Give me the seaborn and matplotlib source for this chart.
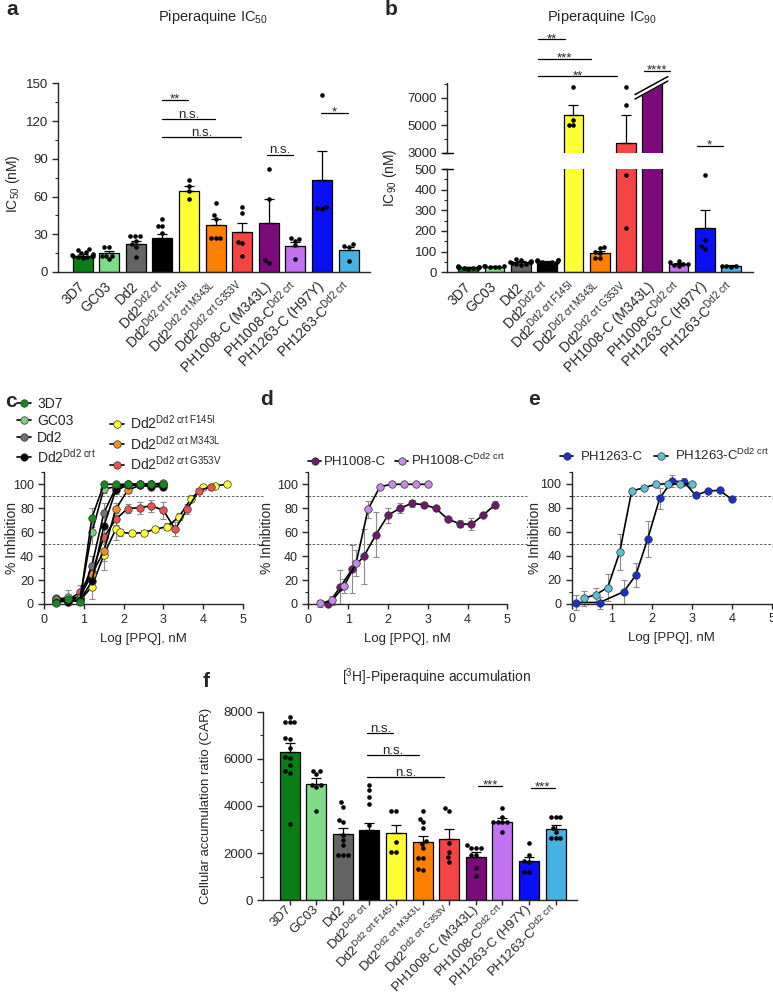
import numpy as np
import pandas as pd
import matplotlib
matplotlib.use('Agg')
import matplotlib.pyplot as plt
from matplotlib.lines import Line2D
from matplotlib.ticker import MultipleLocator
import seaborn as sns

sns.set_style('ticks')
plt.rcParams['font.family'] = ['Liberation Sans', 'DejaVu Sans']
plt.rcParams['mathtext.fontset'] = 'custom'
plt.rcParams['mathtext.rm'] = 'Liberation Sans'
plt.rcParams['mathtext.it'] = 'Liberation Sans:italic'
plt.rcParams['mathtext.bf'] = 'Liberation Sans:bold'
plt.rcParams['axes.linewidth'] = 1.0
plt.rcParams['xtick.major.width'] = 1.0
plt.rcParams['ytick.major.width'] = 1.0
plt.rcParams['ytick.minor.width'] = 0.8
plt.rcParams['ytick.major.size'] = 4
plt.rcParams['ytick.minor.size'] = 2.5
plt.rcParams['xtick.major.size'] = 3.5

#_____ DATA: strains _____
strains = ['3D7', 'GC03', 'Dd2', 'Dd2crt', 'F145I', 'M343L', 'G353V',
           'PH1008C', 'PH1008Ccrt', 'PH1263C', 'PH1263Ccrt']
strain_labels = ['3D7', 'GC03', 'Dd2',
                 r'Dd2$^{\mathrm{Dd2\ crt}}$',
                 r'Dd2$^{\mathrm{Dd2\ crt\ F145I}}$',
                 r'Dd2$^{\mathrm{Dd2\ crt\ M343L}}$',
                 r'Dd2$^{\mathrm{Dd2\ crt\ G353V}}$',
                 'PH1008-C (M343L)',
                 r'PH1008-C$^{\mathrm{Dd2\ crt}}$',
                 'PH1263-C (H97Y)',
                 r'PH1263-C$^{\mathrm{Dd2\ crt}}$']
strain_colors = ['#0a7d14', '#7fdc86', '#646464', '#000000', '#ffff33', '#ff8000',
                 '#f44444', '#7d0a7d', '#c173f2', '#0a10f5', '#44b2e2']

#_____ DATA: panel a, IC50 (nM) _____
ic50_mean = [13, 14.8, 22.2, 27.3, 64.5, 37, 31.5, 39, 20.6, 73, 17.2]
ic50_sem = [1.2, 1.9, 2.1, 3.1, 3.7, 5, 7.5, 18.7, 2.9, 22.8, 2.6]
ic50_points = [
    [18.5, 17.5, 16, 15, 14, 13.5, 13, 12.5, 12, 11.5, 12, 13],
    [20, 20, 13, 10, 13, 13],
    [29, 28.6, 29, 25, 22, 20, 12],
    [42.5, 36.5, 36.5, 30.7, 24, 22, 20, 18],
    [72.8, 68.5, 64, 58],
    [54.5, 45.2, 41.8, 27.3, 27.3, 27.3],
    [51.3, 46.6, 24, 22.8, 13],
    [81.7, 58, 9.5, 7.4],
    [27, 26, 25, 21.4, 10],
    [141, 52, 50, 51],
    [22, 21, 20, 9],
]
ic50_sig = [(3, 3.97, 137, '**'), (3, 4.97, 121.7, 'n.s.'), (3, 5.97, 107, 'n.s.'),
            (6.93, 7.9, 93.4, 'n.s.'), (8.97, 9.96, 126.7, '*')]

#_____ DATA: panel b, IC90 (nM) _____
ic90_mean = [25, 28, 48, 52, 5742, 92, 3727, 20000, 40, 213, 30]
ic90_sem = [3, 3, 5, 3, 705, 11, 2015, 0, 5, 89, 3]
ic90_points = [
    [30, 28, 25, 22, 20, 18, 25, 28, 22],
    [32, 30, 28, 25, 24, 30],
    [60, 62, 55, 50, 45, 38, 35, 40, 48, 50],
    [60, 60, 58, 55, 55, 50, 48, 45, 50],
    [7756, 5378, 5000, 5000],
    [122, 116, 100, 92, 68, 70],
    [7800, 6491, 469, 214],
    [],
    [55, 50, 42, 35, 30, 40],
    [471, 155, 125, 115],
    [32, 30, 28, 30],
]
ic90_sig = [(2.66, 3.66, 11247, '**'), (2.66, 4.65, 9815, '***'), (2.66, 5.66, 8556, '**'),
            (6.69, 7.67, 8964, '****'), (8.7, 9.67, 3509, '*')]

#_____ DATA: panel c, d, e dose response (% inhibition vs log[PPQ]) _____
log_std = [0.3, 0.6, 0.9, 1.2, 1.5, 1.8, 2.1, 2.4, 2.7, 3.0]
inh_3d7 = [1, 4, 2, 72, 100, 100, 100, 100, 100, 100]
err_3d7 = [2, 3, 3, 8, 1, 1, 1, 1, 1, 1]
inh_gc03 = [3, 6, 5, 60, 96, 98, 100, 100, 100, 101]
err_gc03 = [2, 6, 4, 10, 3, 2, 1, 1, 1, 1]
inh_dd2 = [4, 3, 5, 32, 76, 97, 100, 100, 100, 100]
err_dd2 = [3, 3, 5, 8, 8, 3, 1, 1, 1, 1]
inh_dd2crt = [2, 2, 3, 19, 65, 95, 99, 99, 98, 98]
err_dd2crt = [2, 2, 3, 6, 9, 3, 2, 1, 2, 2]
log_f145i = [0.3, 0.6, 0.9, 1.2, 1.5, 1.8, 1.9, 2.2, 2.5, 2.8, 3.1, 3.4, 3.7, 4.0, 4.3, 4.6]
inh_f145i = [3, 2, 3, 14.5, 41, 62.4, 60, 59, 59.6, 62.5, 64.6, 73, 88, 97.5, 98.6, 100]
err_f145i = [2, 2, 3, 10, 13, 9, 3, 2, 2, 2, 3, 3, 3, 1, 1, 1]
inh_m343l = [5, 4, 6, 25, 44, 79, 95, 99, 100, 99]
err_m343l = [2, 3, 3, 7, 8, 5, 2, 1, 1, 1]
log_g353v = [0.3, 0.6, 0.9, 1.2, 1.5, 1.8, 2.1, 2.4, 2.7, 3.0, 3.3, 3.6, 3.9, 4.2]
inh_g353v = [4, 3, 10, 26.5, 55.7, 70.8, 79.7, 80.5, 82, 78.3, 62.4, 79.4, 94.7, 98]
err_g353v = [2, 2, 6, 8, 10, 5, 4, 5, 5, 7, 6, 4, 2, 1]

log_ph1008 = [0.5, 0.8, 1.1, 1.4, 1.7, 2.0, 2.3, 2.6, 2.9, 3.2, 3.5, 3.8, 4.1, 4.4, 4.7]
inh_ph1008 = [0, 14, 29, 40, 58, 74, 80, 84, 83, 80, 71, 67, 66.5, 74.5, 83]
err_ph1008 = [0, 14, 20, 23, 19, 6, 4, 3, 2, 1, 1, 3, 5, 1, 3]
inh_ph1008crt = [0.5, 3, 15, 34, 79, 98, 100, 100, 100, 100]
err_ph1008crt = [3, 4, 6, 11, 7, 1, 1, 1, 1, 1]

log_ph1263 = [0.1, 0.7, 1.3, 1.6, 1.9, 2.2, 2.5, 2.8, 3.1, 3.4, 3.7, 4.0]
inh_ph1263 = [1, 1, 10, 23.6, 54, 87.8, 102, 101.7, 90.3, 94, 94.4, 87]
err_ph1263 = [6, 5, 10, 10, 15, 9, 5, 3, 1, 1, 1, 1]
inh_ph1263crt = [4.5, 7.5, 13.5, 43, 94, 96.5, 99.5, 100, 99.5, 100]
err_ph1263crt = [6, 6, 11, 15, 2, 1, 1, 1, 1, 1]

#_____ DATA: panel f, CAR _____
car_mean = [6296, 4915, 2809, 2978, 2853, 2480, 2610, 1850, 3333, 1680, 3008]
car_sem = [389, 255, 269, 282, 337, 260, 410, 184, 142, 170, 182]
car_points = [
    [7770, 7560, 7560, 7560, 6890, 6820, 6440, 6085, 6010, 5720, 5480, 5410, 3220],
    [5480, 5480, 5340, 4890, 4800, 4890, 3770],
    [4150, 3970, 3400, 3300, 2760, 2550, 2340, 1920, 1920, 1920],
    [4885, 4670, 4390, 4080, 3190, 2500, 2200, 2000, 1800, 1600, 1500],
    [3780, 3780, 2480, 2060, 2060],
    [3800, 3450, 3300, 3070, 2500, 2390, 2200, 1780, 1780, 1345, 1290],
    [3920, 3800, 2410, 2060, 1640, 1830],
    [2340, 2230, 2230, 2230, 1920, 1900, 1370, 1050],
    [3920, 3540, 3330, 3330, 3330, 3330, 2880],
    [2410, 1920, 1640, 1220, 1220, 1670],
    [3520, 3520, 3520, 3050, 2880, 2650, 2650, 2650],
]
car_sig = [(2.92, 3.9, 7076, 'n.s.'), (2.92, 4.87, 6156, 'n.s.'), (2.92, 5.8, 5224, 'n.s.'),
           (7.07, 7.99, 4844, '***'), (9.06, 9.96, 4773, '***')]

palette = dict(zip(strains, strain_colors))
W, H = 773, 992
fig = plt.figure(figsize=(W / 100, H / 100), dpi=100)


def add_ax(l, t, r, b):
    return fig.add_axes([l / W, 1 - b / H, (r - l) / W, (b - t) / H])


def points_df(points):
    rows = [(s, v) for s, vals in zip(strains, points) for v in vals]
    return pd.DataFrame(rows, columns=['strain', 'value'])


def draw_bars(ax, means, sems, points):
    bar_df = pd.DataFrame({'strain': strains, 'value': means})
    sns.barplot(data=bar_df, x='strain', y='value', hue='strain', order=strains,
                hue_order=strains, palette=palette, saturation=1, legend=False,
                edgecolor='black', linewidth=0.9, width=0.75, errorbar=None, ax=ax)
    ax.errorbar(np.arange(len(strains)), means, yerr=[np.zeros(len(means)), sems],
                fmt='none', ecolor='black', elinewidth=0.9, capsize=3.5, capthick=0.9, zorder=3)
    sns.swarmplot(data=points_df(points), x='strain', y='value', order=strains,
                  color='black', size=3.3, ax=ax, zorder=4)
    ax.set_xlabel('')
    ax.set_ylabel('')


def sig_line(ax, x0, x1, y, label):
    ax.plot([x0, x1], [y, y], color='black', lw=0.9, clip_on=False)
    off = -2.0 if '*' in label else 1.0
    ax.annotate(label, xy=((x0 + x1) / 2, y), xytext=(0, off), textcoords='offset points',
                ha='center', va='baseline', fontsize=9.5, annotation_clip=False)


def strain_ticks(ax, xlim, show=True, ticklen=0, pad=9, size=10):
    ax.set_xlim(*xlim)
    ax.set_xticks(np.arange(len(strains)))
    if show:
        ax.set_xticklabels(strain_labels, rotation=45, ha='right', rotation_mode='anchor',
                           va='center', fontsize=size)
    else:
        ax.set_xticklabels([])
    ax.tick_params(axis='x', length=ticklen, pad=pad)
    ax.tick_params(axis='y', labelsize=9.5)


#_____ PANEL A _____
ax_a = add_ax(58.3, 83.3, 370, 272)
draw_bars(ax_a, ic50_mean, ic50_sem, ic50_points)
ax_a.set_ylim(0, 150)
ax_a.yaxis.set_major_locator(MultipleLocator(30))
ax_a.yaxis.set_minor_locator(MultipleLocator(15))
strain_ticks(ax_a, (-0.91, 10.8))
for x0, x1, y, lab in ic50_sig:
    sig_line(ax_a, x0, x1, y, lab)
sns.despine(ax=ax_a)

#_____ PANEL B (broken axis) _____
ax_bt = add_ax(447.3, 83.3, 753.3, 152.7)
ax_bb = add_ax(447.3, 169, 753.3, 272.3)
draw_bars(ax_bt, ic90_mean, ic90_sem, ic90_points)
draw_bars(ax_bb, ic90_mean, ic90_sem, ic90_points)
ax_bt.set_ylim(3000, 8050)
ax_bt.set_yticks([3000, 5000, 7000])
ax_bt.set_yticks([4000, 6000, 8000], minor=True)
ax_bb.set_ylim(0, 500)
ax_bb.yaxis.set_major_locator(MultipleLocator(100))
ax_bb.yaxis.set_minor_locator(MultipleLocator(50))
strain_ticks(ax_bt, (-0.8, 10.84), show=False)
strain_ticks(ax_bb, (-0.8, 10.84))
ax_bt.tick_params(axis='x', bottom=False)
sns.despine(ax=ax_bt, bottom=True)
sns.despine(ax=ax_bb)
for axx, yb in [(ax_bt, 3000), (ax_bb, 500)]:
    axx.plot([-0.013, 0.02], [yb, yb], transform=axx.get_yaxis_transform(),
             color='black', lw=1.0, clip_on=False)
# cut top of off-scale PH1008-C bar
ax_bt.fill([6.6, 7.4, 7.4, 6.6], [7180, 8020, 8150, 8150], color='white', zorder=5, clip_on=False)
ax_bt.plot([6.34, 7.59], [6905, 8215], color='black', lw=1.1, zorder=6, clip_on=False)
ax_bt.plot([6.34, 7.59], [7230, 8540], color='black', lw=1.1, zorder=6, clip_on=False)
for x0, x1, y, lab in ic90_sig:
    sig_line(ax_bt, x0, x1, y, lab)

#_____ PANELS C, D, E _____
def dose_series(ax, x, y, err, color):
    ax.errorbar(x, y, yerr=err, fmt='none', ecolor='#8c8c8c', elinewidth=0.8,
                capsize=2, capthick=0.8, zorder=1, clip_on=False)
    sns.lineplot(x=x, y=y, color='black', linewidth=1.2, marker='o', markersize=5.4,
                 markerfacecolor=color, markeredgecolor='#333333', markeredgewidth=0.5,
                 ax=ax, clip_on=False, zorder=3)


def dose_axes(ax, dash_end):
    ax.set_xlim(0, 5)
    ax.set_ylim(0, 110)
    ax.set_yticks(np.arange(0, 101, 20))
    ax.yaxis.set_minor_locator(MultipleLocator(10))
    ax.set_xticks(np.arange(0, 6, 1))
    ax.tick_params(labelsize=9)
    for yl in [90, 50]:
        ax.plot([0, dash_end], [yl, yl], ls=(0, (3, 2)), lw=0.6, color='#444444',
                clip_on=False, zorder=0)
    ax.set_xlabel('Log [PPQ], nM', fontsize=9.5, labelpad=5)
    ax.set_ylabel('')
    sns.despine(ax=ax)


def handle(color):
    return Line2D([], [], color='black', lw=1.2, marker='o', markersize=5.4,
                  markerfacecolor=color, markeredgecolor='#333333', markeredgewidth=0.5)


c_colors = {'3D7': '#168a1e', 'GC03': '#7fce80', 'Dd2': '#707070', 'Dd2crt': '#000000',
            'F145I': '#ffff33', 'M343L': '#f0901e', 'G353V': '#e85454'}
ax_c = add_ax(44.3, 472.3, 242.7, 604)
dose_series(ax_c, log_f145i, inh_f145i, err_f145i, c_colors['F145I'])
dose_series(ax_c, log_g353v, inh_g353v, err_g353v, c_colors['G353V'])
dose_series(ax_c, log_std, inh_m343l, err_m343l, c_colors['M343L'])
dose_series(ax_c, log_std, inh_dd2, err_dd2, c_colors['Dd2'])
dose_series(ax_c, log_std, inh_gc03, err_gc03, c_colors['GC03'])
dose_series(ax_c, log_std, inh_dd2crt, err_dd2crt, c_colors['Dd2crt'])
dose_series(ax_c, log_std, inh_3d7, err_3d7, c_colors['3D7'])
dose_axes(ax_c, 5.5)
blank = Line2D([], [], linestyle='none')
c_handles = [handle(c_colors['3D7']), handle(c_colors['GC03']), handle(c_colors['Dd2']),
             handle(c_colors['Dd2crt']), blank, handle(c_colors['F145I']),
             handle(c_colors['M343L']), handle(c_colors['G353V'])]
c_labels = ['3D7', 'GC03', 'Dd2', r'Dd2$^{\mathrm{Dd2\ crt}}$', '',
            r'Dd2$^{\mathrm{Dd2\ crt\ F145I}}$', r'Dd2$^{\mathrm{Dd2\ crt\ M343L}}$',
            r'Dd2$^{\mathrm{Dd2\ crt\ G353V}}$']
ax_c.legend(c_handles, c_labels, ncol=2, loc='upper left', bbox_to_anchor=(17 / W, 1 - 397 / H),
            bbox_transform=fig.transFigure, frameon=False, fontsize=10, handlelength=1.0,
            handletextpad=0.45, columnspacing=1.0, labelspacing=0.2, borderpad=0, borderaxespad=0)

ax_d = add_ax(308.3, 472.3, 507.3, 604)
dose_series(ax_d, log_ph1008, inh_ph1008, err_ph1008, '#6d1a6d')
dose_series(ax_d, log_std, inh_ph1008crt, err_ph1008crt, '#c48ae6')
dose_axes(ax_d, 5.5)
ax_d.legend([handle('#6d1a6d'), handle('#c48ae6')], ['PH1008-C', r'PH1008-C$^{\mathrm{Dd2\ crt}}$'],
            ncol=2, loc='center left', bbox_to_anchor=(308 / W, 1 - 460 / H),
            bbox_transform=fig.transFigure, frameon=False, fontsize=9.5, handlelength=1.0,
            handletextpad=0.2, columnspacing=0.7, borderpad=0, borderaxespad=0)

ax_e = add_ax(571.7, 471.7, 771.7, 603.7)
dose_series(ax_e, log_ph1263, inh_ph1263, err_ph1263, '#1a30c8')
dose_series(ax_e, log_std, inh_ph1263crt, err_ph1263crt, '#5cc0d2')
dose_axes(ax_e, 5.1)
ax_e.legend([handle('#1a30c8'), handle('#5cc0d2')], ['PH1263-C', r'PH1263-C$^{\mathrm{Dd2\ crt}}$'],
            ncol=2, loc='center left', bbox_to_anchor=(560 / W, 1 - 455 / H),
            bbox_transform=fig.transFigure, frameon=False, fontsize=9.5, handlelength=1.0,
            handletextpad=0.55, columnspacing=0.9, borderpad=0, borderaxespad=0)

#_____ PANEL F _____
ax_f = add_ax(263.3, 711.5, 576.7, 900.3)
draw_bars(ax_f, car_mean, car_sem, car_points)
ax_f.set_ylim(0, 8000)
ax_f.yaxis.set_major_locator(MultipleLocator(2000))
ax_f.yaxis.set_minor_locator(MultipleLocator(1000))
strain_ticks(ax_f, (-0.99, 10.79), ticklen=3.5, pad=2, size=9.5)
for x0, x1, y, lab in car_sig:
    sig_line(ax_f, x0, x1, y, lab)
sns.despine(ax=ax_f)

#_____ TEXT: titles, axis labels, panel letters _____
fig.text(213 / W, 1 - 21 / H, 'Piperaquine IC$_{50}$', ha='center', va='baseline', fontsize=10.5)
fig.text(601.7 / W, 1 - 21 / H, 'Piperaquine IC$_{90}$', ha='center', va='baseline', fontsize=10.5)
fig.text(436.5 / W, 1 - 682 / H, '[$^{3}$H]-Piperaquine accumulation', ha='center', va='baseline', fontsize=10)
fig.text(13.5 / W, 1 - 184 / H, 'IC$_{50}$ (nM)', rotation=90, ha='center', va='center', fontsize=10)
fig.text(390 / W, 1 - 178 / H, 'IC$_{90}$ (nM)', rotation=90, ha='center', va='center', fontsize=10)
for xl in [12, 267, 535]:
    fig.text(xl / W, 1 - 538 / H, '% Inhibition', rotation=90, ha='center', va='center', fontsize=10)
fig.text(206.5 / W, 1 - 806 / H, 'Cellular accumulation ratio (CAR)', rotation=90,
         ha='center', va='center', fontsize=9.5)
for lx, ly, lab in [(6, 15, 'a'), (385, 15, 'b'), (5, 407, 'c'), (260, 405, 'd'),
                    (528, 405, 'e'), (203, 687, 'f')]:
    fig.text(lx / W, 1 - ly / H, lab, fontsize=15, fontweight='bold', va='baseline')

fig.savefig('out.png', dpi=100)
